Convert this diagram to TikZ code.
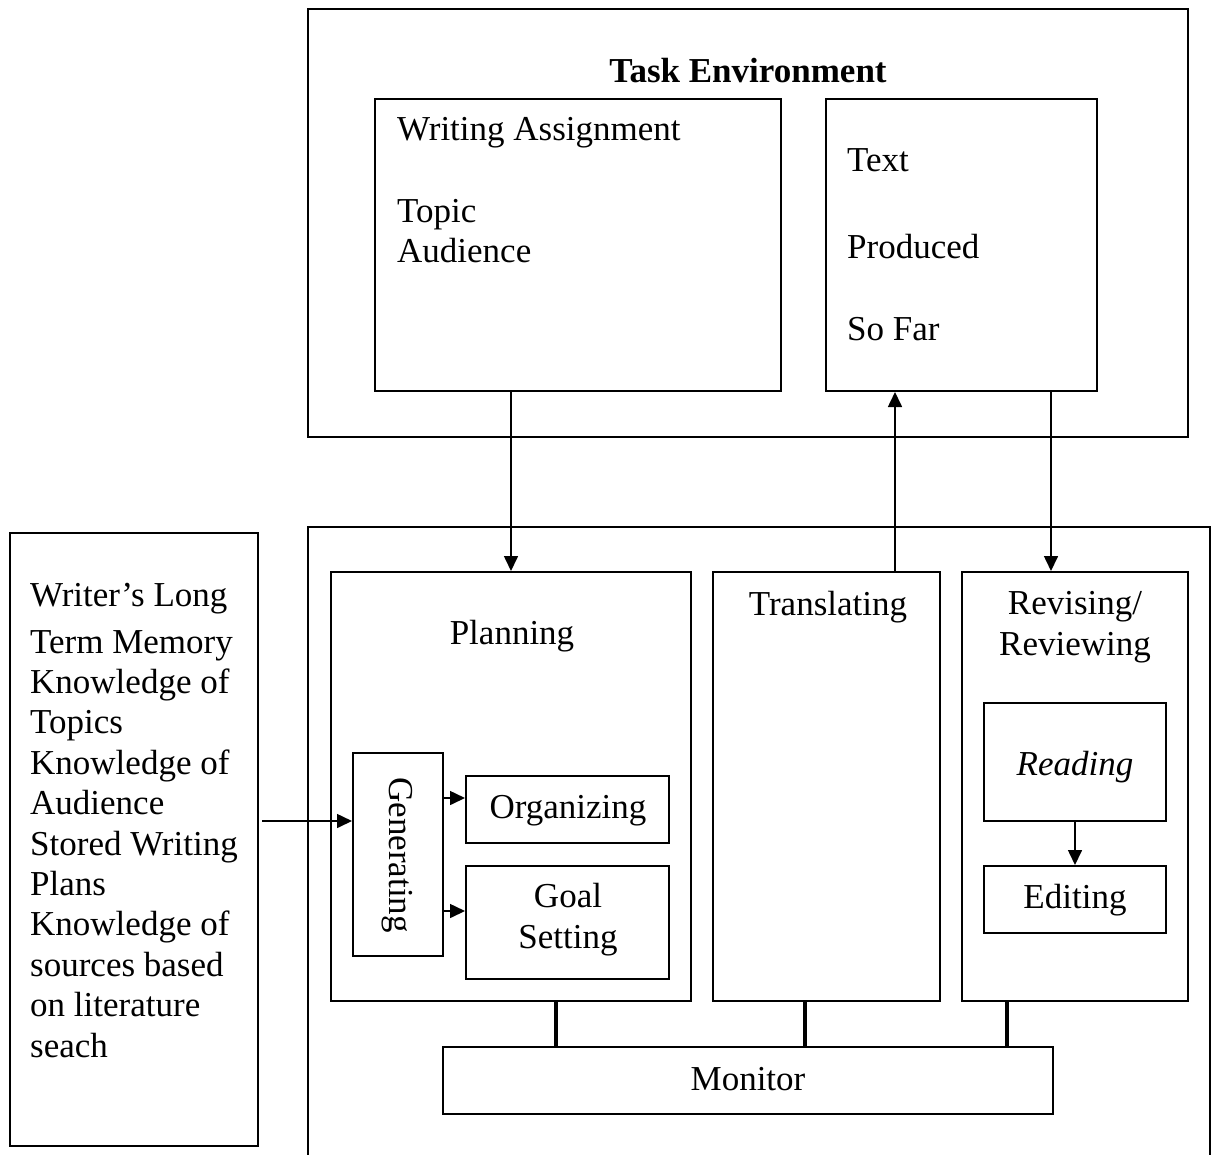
\documentclass[tikz,border=0pt]{standalone}
\usepackage{fontspec}
\setmainfont{Liberation Serif}
\usetikzlibrary{arrows.meta,fit}
\begin{document}
\begin{tikzpicture}[x=1pt,y=-1pt,
  box/.style={draw, line width=2pt, inner sep=0pt},
  txt/.style={inner sep=0pt, font=\fontsize{35}{40.4}\selectfont},
  arr/.style={line width=1.6pt, -{Triangle[length=15pt,width=14pt]}},
  link/.style={line width=3.5pt}]
\useasboundingbox (0,0) rectangle (1212,1154);
% Task environment
\node[box, fit={(308,9) (1188,437)}] (task) {};
\node[txt, anchor=base, font=\fontsize{35}{40.4}\selectfont\bfseries] (tasklbl) at (748,82) {Task Environment};
\node[box, fit={(375,99) (781,391)}] (wa) {};
\node[txt, anchor=base west] (walbl) at (397,140) {Writing Assignment};
\node[txt, anchor=base west] (topic) at (397,222) {Topic};
\node[txt, anchor=base west] (aud) at (397,262) {Audience};
\node[box, fit={(826,99) (1097,391)}] (tp) {};
\node[txt, anchor=base west] (tp1) at (847,171) {Text};
\node[txt, anchor=base west] (tp2) at (847,258) {Produced};
\node[txt, anchor=base west] (tp3) at (847,340) {So Far};
% Writer's long term memory
\node[box, fit={(10,533) (258,1146)}] (ltm) {};
\node[txt, anchor=base west, align=left] (ltmlbl) at (30,1057) {Writer’s Long\\[6.6pt]Term Memory\\Knowledge of\\Topics\\Knowledge of\\Audience\\Stored Writing\\Plans\\Knowledge of\\sources based\\on literature\\seach};
% Writing processes
\draw[line width=2pt] (308,1170) -- (308,527) -- (1210,527) -- (1210,1170);
\node[box, fit={(331,572) (691,1001)}] (plan) {};
\node[txt, anchor=base] (planlbl) at (512,644) {Planning};
\node[box, fit={(353,753) (443,956)}] (gen) {};
\node[txt, rotate=-90] (genlbl) at (397,855) {Generating};
\node[box, fit={(466,776) (669,843)}] (org) {};
\node[txt, anchor=base] (orglbl) at (568,818) {Organizing};
\node[box, fit={(466,866) (669,979)}] (goal) {};
\node[txt, anchor=base, align=center] (goallbl) at (568,948) {Goal\\Setting};
\node[box, fit={(713,572) (940,1001)}] (trans) {};
\node[txt, anchor=base] (translbl) at (828,615) {Translating};
\node[box, fit={(962,572) (1188,1001)}] (rev) {};
\node[txt, anchor=base, align=center] (revlbl) at (1075,655) {Revising/\\Reviewing};
\node[box, fit={(984,703) (1166,821)}] (read) {};
\node[txt, anchor=base] (readlbl) at (1075,775) {\itshape Reading};
\node[box, fit={(984,866) (1166,933)}] (edit) {};
\node[txt, anchor=base] (editlbl) at (1075,908) {Editing};
\node[box, fit={(443,1047) (1053,1114)}] (mon) {};
\node[txt, anchor=base] (monlbl) at (748,1090) {Monitor};
% connector positions
\coordinate (xa) at (511,0);
\coordinate (xb) at (895,0);
\coordinate (xc) at (1051,0);
\coordinate (ya) at (0,821);
\coordinate (yb) at (0,798);
\coordinate (yc) at (0,911);
\coordinate (m1) at (556,0);
\coordinate (m2) at (805,0);
\coordinate (m3) at (1007,0);
\coordinate (ltmout) at (262,821);
% arrows
\draw[arr] (wa.south -| xa) -- (plan.north -| xa);
\draw[arr] (trans.north -| xb) -- (tp.south -| xb);
\draw[arr] (tp.south -| xc) -- (rev.north -| xc);
\draw[arr] (ltmout) -- (gen.west |- ya);
\draw[arr] (gen.east |- yb) -- (org.west |- yb);
\draw[arr] (gen.east |- yc) -- (goal.west |- yc);
\draw[arr] (read) -- (edit);
% monitor links
\draw[link] (plan.south -| m1) -- (mon.north -| m1);
\draw[link] (trans.south -| m2) -- (mon.north -| m2);
\draw[link] (rev.south -| m3) -- (mon.north -| m3);
\end{tikzpicture}
\end{document}
